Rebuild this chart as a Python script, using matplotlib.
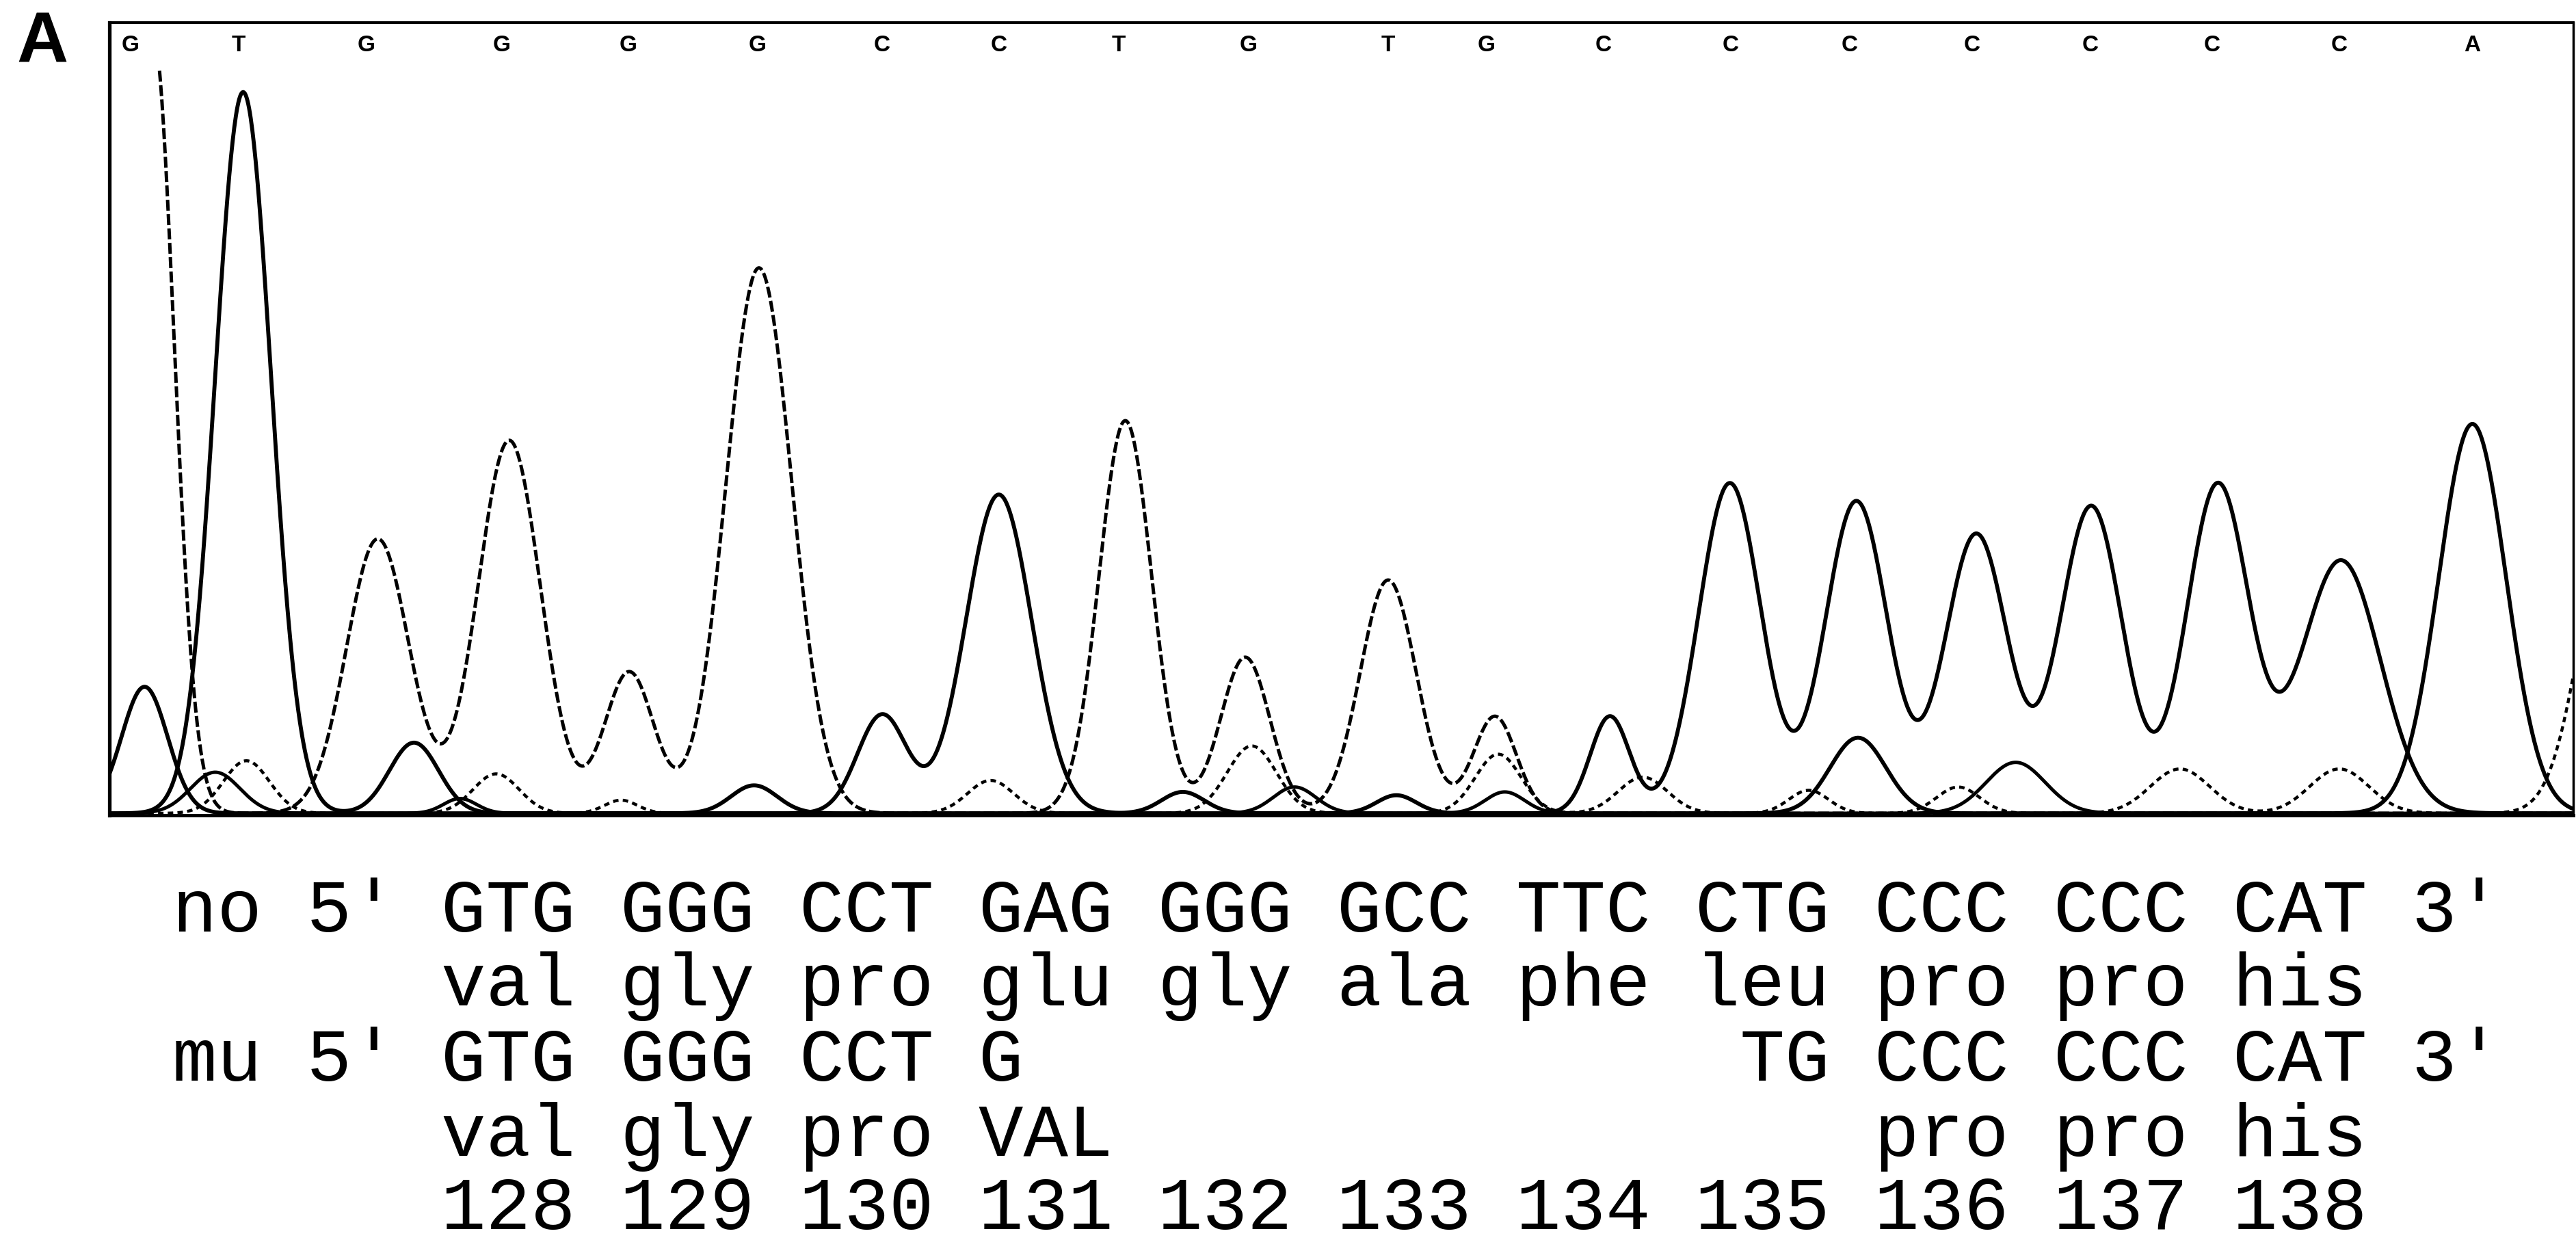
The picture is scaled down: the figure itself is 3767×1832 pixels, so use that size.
import numpy as np
import matplotlib.pyplot as plt

# base calls printed along the top (position in scan units)
base_calls = list("GTGGGGCCTGTGCCCCCCCA")
base_pos = [79.5, 145, 223, 305.5, 382.5, 461, 537, 608, 681, 760,
            845, 905, 976, 1053.5, 1126, 1200.5, 1272.5, 1346.5, 1424, 1505]

# peaks: centre, height, width (scan units)
c_centres = [88, 537, 608, 980, 1053, 1130, 1203, 1273, 1350, 1425]
c_heights = [77, 60, 194, 59, 201, 190, 170, 187, 200, 154]
c_widths = [14, 15, 20, 12, 19, 19, 19, 19, 19, 24]

t_centres = [148, 252, 459, 720, 850, 1131, 1505]
t_heights = [439, 43, 17, 13, 11, 46, 237]
t_widths = [17, 15, 14, 13, 12, 17, 20.5]

a_centres = [131, 280, 788, 916, 1227]
a_heights = [25, 9, 16, 13, 31]
a_widths = [15, 10, 13, 12, 18]

g_centres = [93, 230, 310, 383, 462, 685, 758, 845, 910]
g_heights = [475, 167, 227, 86, 332, 239, 95, 142, 59]
g_widths = [13, 19, 19, 15, 20, 16, 15, 17, 13]
g_start = 97

n_centres = [150, 302, 378, 603, 762, 912, 1000, 1101, 1192, 1327, 1424, 1592]
n_heights = [32, 24, 8, 20, 41, 36, 22, 14, 16, 27, 27, 190]
n_widths = [14, 14, 10, 14, 15, 14, 15, 12, 13, 18, 18, 20]

# sequence text under the trace
rows = [
    "no 5\u2032 GTG GGG CCT GAG GGG GCC TTC CTG CCC CCC CAT 3\u2032",
    "      val gly pro glu gly ala phe leu pro pro his",
    "mu 5\u2032 GTG GGG CCT G                TG CCC CCC CAT 3\u2032",
    "      val gly pro VAL                 pro pro his",
    "      128 129 130 131 132 133 134 135 136 137 138",
]
row_baselines = [1362, 1470, 1580, 1690, 1797]

W, H = 3767, 1832
fig = plt.figure(figsize=(W / 100, H / 100), dpi=100)
ax = fig.add_axes([160 / W, 1 - 1192 / H, (3763 - 160) / W, (1192 - 33) / H])

x = np.arange(66.6, 1566.5, 0.5)


def trace(centres, heights, widths):
    y = np.full_like(x, 2.0)
    for c, h, w in zip(centres, heights, widths):
        y += h * np.exp(-0.5 * ((x - c) / w) ** 2)
    return y


ax.plot(x, trace(c_centres, c_heights, c_widths), color='black', lw=4.2)
ax.plot(x, trace(t_centres, t_heights, t_widths), color='black', lw=4.2)
ax.plot(x, trace(a_centres, a_heights, a_widths), color='black', lw=3.6)
yg = trace(g_centres, g_heights, g_widths)
keep = x >= g_start
ax.plot(x[keep], yg[keep], color='black', lw=3.6, dashes=(3.2, 1.0))
ax.plot(x, trace(n_centres, n_heights, n_widths), color='black', lw=3.2,
        dashes=(1.8, 1.4))

for b, p in zip(base_calls, base_pos):
    ax.text(p, 0.9707, b, transform=ax.get_xaxis_transform(), ha='center',
            va='center', fontsize=24, fontweight='bold',
            family='Liberation Sans')

ax.set_xlim(66.6, 1566.4)
ax.set_ylim(0.8, 483.3)
ax.set_xticks([])
ax.set_yticks([])
ax.spines['left'].set_linewidth(3.8)
ax.spines['bottom'].set_linewidth(3.5)
ax.spines['top'].set_linewidth(2.8)
ax.spines['right'].set_linewidth(2.5)

fig.text(62 / W, 1 - 64 / H, 'A', ha='center', va='center', fontsize=75,
         fontweight='bold', family='Liberation Sans')

for s, yb in zip(rows, row_baselines):
    fig.text(252 / W, 1 - yb / H, s, ha='left', va='baseline', fontsize=78.6,
             family=['Liberation Mono', 'DejaVu Sans Mono'])

fig.savefig('out.png', dpi=100)
